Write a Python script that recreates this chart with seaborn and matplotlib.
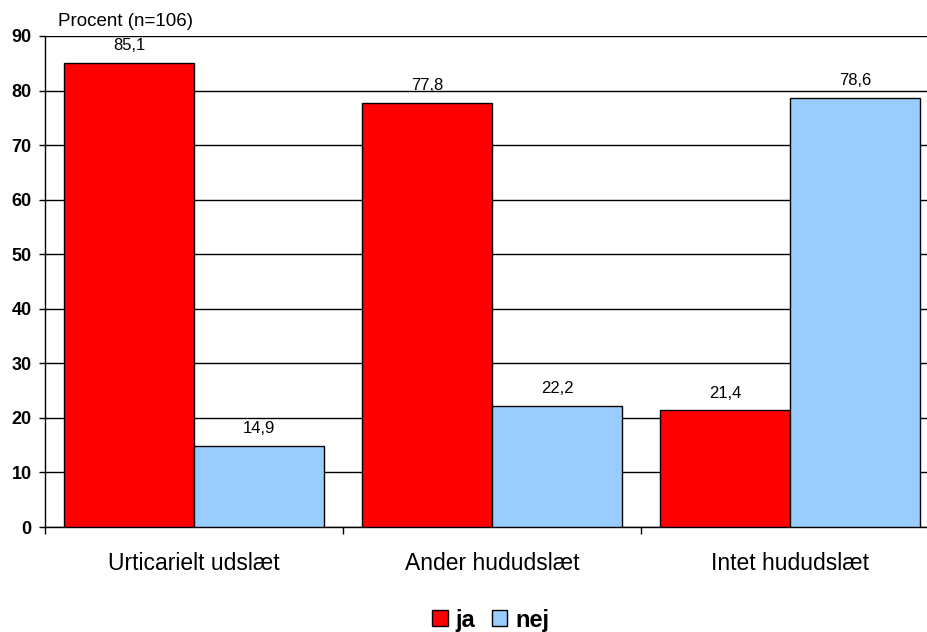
import matplotlib
matplotlib.use("Agg")
import matplotlib.pyplot as plt
import seaborn as sns
import pandas as pd
from matplotlib.patches import Patch

categories = ["Urticarielt udslæt", "Ander hududslæt", "Intet hududslæt"]
series_names = ["ja", "nej"]
ja_values = [85.1, 77.8, 21.4]
nej_values = [14.9, 22.2, 78.6]
colors = ["#FF0000", "#99CCFF"]

rows = []
for c, j, n in zip(categories, ja_values, nej_values):
    rows.append({"cat": c, "svar": "ja", "val": j})
    rows.append({"cat": c, "svar": "nej", "val": n})
df = pd.DataFrame(rows)

sns.set_style("white")
plt.rcParams["font.family"] = ["Liberation Sans", "DejaVu Sans"]
plt.rcParams["text.color"] = "black"
plt.rcParams["xtick.color"] = "black"
plt.rcParams["ytick.color"] = "black"

fig = plt.figure(figsize=(9.28, 6.32), dpi=100)
W, H = 928, 632
x0, x1 = 45, 939
y0, y1 = 527, 36
ax = fig.add_axes([x0 / W, (H - y0) / H, (x1 - x0) / W, (y0 - y1) / H])

sns.barplot(data=df, x="cat", y="val", hue="svar", order=categories,
            hue_order=series_names, palette=colors, saturation=1, width=0.872, gap=0,
            edgecolor="black", linewidth=1.0, legend=False, ax=ax, zorder=3)

ax.set_xlim(-0.5, 2.5)
ax.set_ylim(0, 90)
ax.set_yticks(range(0, 91, 10))
ax.set_yticklabels([str(v) for v in range(0, 91, 10)], fontsize=13, fontweight="bold")
ax.yaxis.grid(True, color="black", linewidth=1.0, zorder=0)
ax.set_axisbelow(True)
ax.tick_params(axis="y", direction="out", length=4.5, width=1, color="black", pad=5, left=True,
               labelcolor="black")

ax.set_xticks(range(len(categories)))
ax.set_xticklabels(categories, fontsize=16.5)
ax.tick_params(axis="x", which="major", length=0, pad=18, labelcolor="black")
ax.set_xticks([-0.5, 0.5, 1.5, 2.5], minor=True)
ax.tick_params(axis="x", which="minor", direction="out", length=5, width=1, color="black", bottom=True)

for s in ["top", "right"]:
    ax.spines[s].set_visible(False)
for s in ["left", "bottom"]:
    ax.spines[s].set_color("black")
    ax.spines[s].set_linewidth(1.0)

ax.set_xlabel("")
ax.set_ylabel("")

for cont in ax.containers:
    labels = [f"{v:.1f}".replace(".", ",") for v in cont.datavalues]
    ax.bar_label(cont, labels=labels, padding=7, fontsize=12, color="black")

fig.text(58 / W, 1 - 21 / H, "Procent (n=106)", fontsize=13.5, ha="left", va="center")

handles = [Patch(facecolor=c, edgecolor="black", linewidth=1) for c in colors]
leg = fig.legend(handles, series_names, loc="center", bbox_to_anchor=(491 / W, 1 - 620 / H),
                 ncol=2, frameon=False, prop={"weight": "bold", "size": 17},
                 handlelength=0.65, handleheight=0.65, handletextpad=0.35, columnspacing=0.7)

fig.savefig("out.png", dpi=100)
